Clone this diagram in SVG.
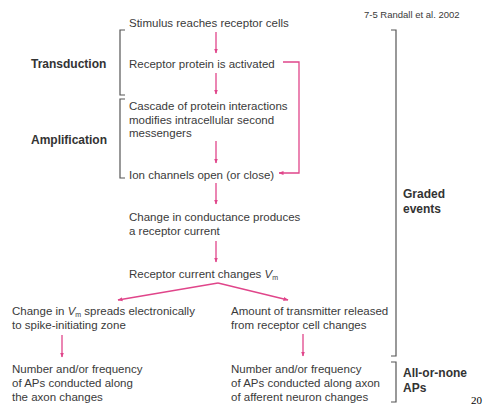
<svg xmlns="http://www.w3.org/2000/svg" width="487" height="406" viewBox="0 0 487 406">
<style>
.t{font-family:"Liberation Sans",Arial,sans-serif;font-size:11.5px;fill:#3a3a3a}
.b{font-family:"Liberation Sans",Arial,sans-serif;font-size:12px;font-weight:bold;fill:#333}
.a{stroke:#e0458a;stroke-width:1.3;fill:none}
.k{stroke:#555;stroke-width:1.2;fill:none}
</style>
<defs>
<marker id="ah" viewBox="0 0 10 10" refX="9" refY="5" markerWidth="5" markerHeight="5" orient="auto" markerUnits="userSpaceOnUse">
<path d="M0,1 L10,5 L0,9 z" fill="#e0458a"/>
</marker>
</defs>
<rect width="487" height="406" fill="#fff"/>
<text class="t" x="364" y="18" style="font-size:9.5px">7-5 Randall et al. 2002</text>
<g id="n1"><text class="t" x="129" y="27">Stimulus reaches receptor cells</text></g>
<g id="n2"><text class="t" x="129" y="68">Receptor protein is activated</text></g>
<g id="n3"><text class="t" x="129" y="110">Cascade of protein interactions</text><text class="t" x="129" y="124">modifies intracellular second</text><text class="t" x="129" y="137">messengers</text></g>
<g id="n4"><text class="t" x="129" y="179">Ion channels open (or close)</text></g>
<g id="n5"><text class="t" x="129" y="221">Change in conductance produces</text><text class="t" x="129" y="235">a receptor current</text></g>
<g id="n6"><text class="t" x="129" y="278">Receptor current changes <tspan font-style="italic">V</tspan><tspan font-size="7" dy="2">m</tspan></text></g>
<g id="n7"><text class="t" x="12" y="315">Change in <tspan font-style="italic">V</tspan><tspan font-size="7" dy="2">m</tspan><tspan dy="-2"> spreads electronically</tspan></text><text class="t" x="12" y="329">to spike-initiating zone</text></g>
<g id="n8"><text class="t" x="231" y="315">Amount of transmitter released</text><text class="t" x="231" y="329">from receptor cell changes</text></g>
<g id="n9"><text class="t" x="12" y="373">Number and/or frequency</text><text class="t" x="12" y="387">of APs conducted along</text><text class="t" x="12" y="401">the axon changes</text></g>
<g id="n10"><text class="t" x="231" y="373">Number and/or frequency</text><text class="t" x="231" y="387">of APs conducted along axon</text><text class="t" x="231" y="401">of afferent neuron changes</text></g>
<g id="lab-transduction"><text class="b" x="31" y="68">Transduction</text><path class="k" d="M125,30 H120 V95 H125"/></g>
<g id="lab-amplification"><text class="b" x="31" y="144">Amplification</text><path class="k" d="M125,99 H120 V178 H125"/></g>
<g id="lab-graded"><text class="b" x="403" y="198">Graded</text><text class="b" x="403" y="213">events</text><path class="k" d="M391,30 H396 V356 H391"/></g>
<g id="lab-allornone"><text class="b" x="403" y="377">All-or-none</text><text class="b" x="403" y="392">APs</text><path class="k" d="M391,362 H396 V402 H391"/></g>
<g id="connectors">
<line class="a" x1="216" y1="32" x2="216" y2="53" marker-end="url(#ah)"/>
<line class="a" x1="216" y1="73" x2="216" y2="94" marker-end="url(#ah)"/>
<line class="a" x1="216" y1="141" x2="216" y2="163" marker-end="url(#ah)"/>
<line class="a" x1="216" y1="183" x2="216" y2="204" marker-end="url(#ah)"/>
<line class="a" x1="216" y1="241" x2="216" y2="262" marker-end="url(#ah)"/>
<path class="a" d="M283,62 H299 V173 H279" marker-end="url(#ah)"/>
<line class="a" x1="218" y1="283" x2="118" y2="300" marker-end="url(#ah)"/>
<line class="a" x1="218" y1="283" x2="288" y2="300" marker-end="url(#ah)"/>
<line class="a" x1="62" y1="335" x2="62" y2="357" marker-end="url(#ah)"/>
<line class="a" x1="303" y1="334" x2="303" y2="356" marker-end="url(#ah)"/>
</g>
<text x="471" y="404" style="font-family:'Liberation Serif',serif;font-size:11px;fill:#000">20</text>
</svg>
